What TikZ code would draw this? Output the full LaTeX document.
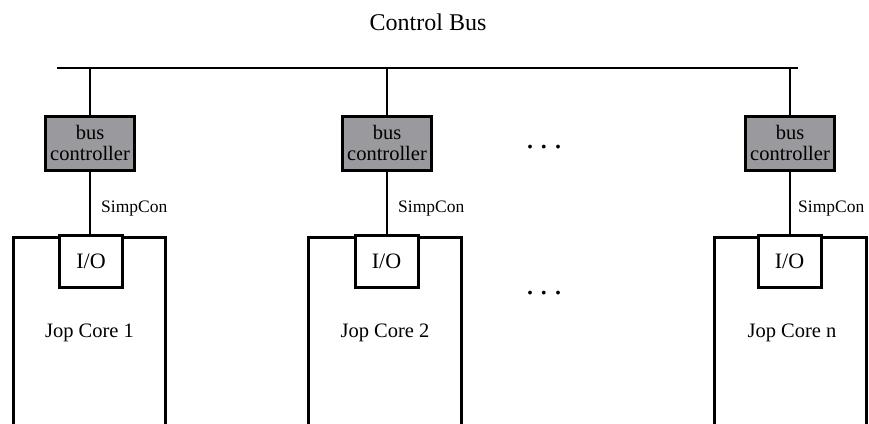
\documentclass[tikz,border=0pt]{standalone}
\usepackage{fontspec}
\setmainfont{Liberation Serif}
\definecolor{bcgray}{RGB}{153,153,158}
\begin{document}
\begin{tikzpicture}[x=1pt,y=-1pt,
  thin line/.style={line width=1.2pt},
  buscontroller/.style={draw, line width=3pt, fill=bcgray, minimum width=89pt, minimum height=54pt, inner sep=0pt, align=center, font=\fontsize{20.5}{21.5}\selectfont},
  iobox/.style={draw, line width=3pt, fill=white, minimum width=63pt, minimum height=52pt, inner sep=0pt, font=\fontsize{22}{24}\selectfont},
  corewall/.style={line width=3pt},
  corelabel/.style={font=\fontsize{20.5}{22}\selectfont},
  simplabel/.style={anchor=base west, inner sep=0pt, font=\fontsize{17.5}{19}\selectfont},
  dotslabel/.style={inner sep=0pt, font=\fontsize{32}{32}\selectfont}
]
\useasboundingbox (0,0) rectangle (869,423);
% title
\node[font=\fontsize{24}{26}\selectfont, anchor=base] (title) at (428,30) {Control Bus};
% bus line
\coordinate (busL) at (57,68);
\coordinate (busR) at (798,68);
\draw[thin line] (busL) -- (busR);
% cores outlines (open at bottom)
\draw[corewall] (13.5,430) -- (13.5,237.5) -- (165.5,237.5) -- (165.5,430);
\draw[corewall] (308.5,430) -- (308.5,237.5) -- (461.5,237.5) -- (461.5,430);
\draw[corewall] (714.5,430) -- (714.5,237.5) -- (866.5,237.5) -- (866.5,430);
% bus controllers
\node[buscontroller] (bc1) at (90,143) {bus\\controller};
\node[buscontroller] (bc2) at (387,143) {bus\\controller};
\node[buscontroller] (bcn) at (790,143) {bus\\controller};
% I/O boxes
\node[iobox] (io1) at (91,261.5) {I/O};
\node[iobox] (io2) at (386.5,261.5) {I/O};
\node[iobox] (ion) at (789.5,261.5) {I/O};
% core labels
\node[corelabel] (core1) at (89.5,333) {Jop Core 1};
\node[corelabel] (core2) at (385,333) {Jop Core 2};
\node[corelabel] (coren) at (792,333) {Jop Core n};
% connectors
\foreach \b/\i in {bc1/io1,bc2/io2,bcn/ion}{
  \draw[thin line] (\b.north |- busL) -- (\b.north);
  \draw[thin line] (\b.south) -- (\b.south |- \i.north);
}
% SimpCon labels
\node[simplabel] (sc1) at (101,212) {SimpCon};
\node[simplabel] (sc2) at (398,212) {SimpCon};
\node[simplabel] (scn) at (798,212) {SimpCon};
% dots
\node[dotslabel] (dots1) at (544,147) {.\hspace{6pt}.\hspace{6pt}.};
\node[dotslabel] (dots2) at (544,293) {.\hspace{6pt}.\hspace{6pt}.};
\end{tikzpicture}
\end{document}
